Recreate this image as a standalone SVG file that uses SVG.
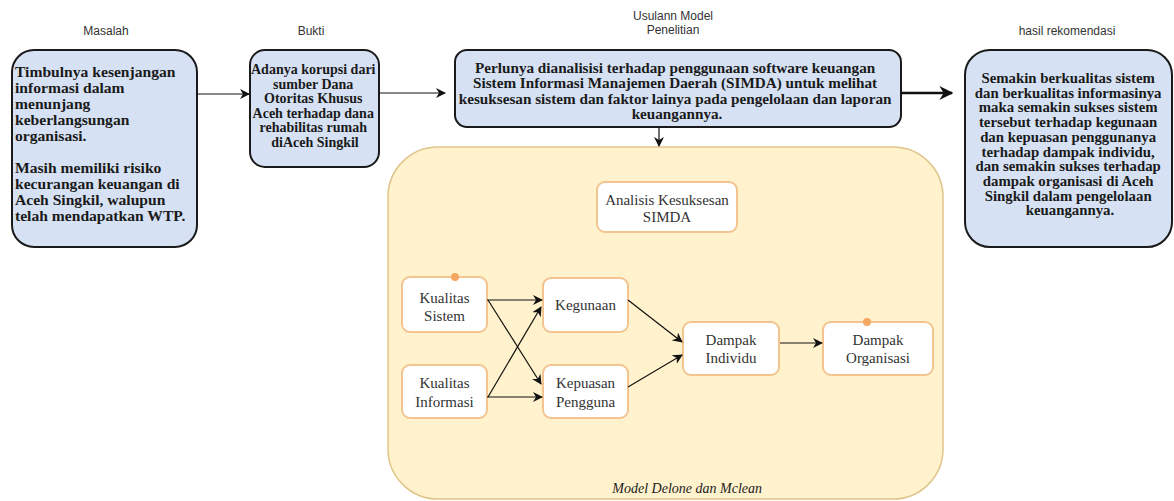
<svg xmlns="http://www.w3.org/2000/svg" width="1174" height="501" viewBox="0 0 1174 501">
<defs>
<marker id="ah" viewBox="0 0 10 10" refX="9" refY="5" markerWidth="10" markerHeight="10" markerUnits="userSpaceOnUse" orient="auto">
<path d="M0,0 L10,5 L0,10 L3,5 Z" fill="#111"/>
</marker>
<marker id="ahb" viewBox="0 0 10 10" refX="9" refY="5" markerWidth="14" markerHeight="14" markerUnits="userSpaceOnUse" orient="auto">
<path d="M0,0 L10,5 L0,10 L3,5 Z" fill="#111"/>
</marker>
<style>
.title{font-family:"Liberation Sans",Arial,sans-serif;font-size:12px;fill:#333;text-anchor:middle}
.blue{fill:#d6e2f4;stroke:#1a1a1a;stroke-width:2}
.bt{font-family:"Liberation Serif","Times New Roman",serif;font-weight:bold;fill:#1a1a1a}
.node{fill:#ffffff;stroke:#f3c48f;stroke-width:2}
.nt{font-family:"Liberation Serif","Times New Roman",serif;font-size:15px;fill:#333;text-anchor:middle}
.conn{stroke:#111;stroke-width:1.2;fill:none;marker-end:url(#ah)}
.dot{fill:#f5a662}
</style>
</defs>
<rect width="1174" height="501" fill="#ffffff"/>

<g id="titles">
<text class="title" x="106" y="35">Masalah</text>
<text class="title" x="311" y="35">Bukti</text>
<text class="title" x="673" y="20">Usulann Model</text>
<text class="title" x="673" y="34">Penelitian</text>
<text class="title" x="1067" y="35">hasil rekomendasi</text>
</g>

<g id="container">
<rect x="388" y="147" width="555" height="352" rx="50" fill="#fff2cc" stroke="#e0c58a" stroke-width="1.5"/>
<text x="762" y="493" text-anchor="end" font-family="'Liberation Serif','Times New Roman',serif" font-style="italic" font-size="14" fill="#222">Model Delone dan Mclean</text>
</g>

<g id="masalah">
<rect class="blue" x="12" y="50" width="185" height="197" rx="22"/>
<text class="bt" style="font-size:15.6px">
<tspan x="15" y="77">Timbulnya kesenjangan</tspan>
<tspan x="15" y="93">informasi dalam</tspan>
<tspan x="15" y="109">menunjang</tspan>
<tspan x="15" y="125">keberlangsungan</tspan>
<tspan x="15" y="141">organisasi.</tspan>
<tspan x="15" y="173">Masih memiliki risiko</tspan>
<tspan x="15" y="189">kecurangan keuangan di</tspan>
<tspan x="15" y="205">Aceh Singkil, walupun</tspan>
<tspan x="15" y="221">telah mendapatkan WTP.</tspan>
</text>
</g>

<g id="bukti">
<rect class="blue" x="250" y="50" width="129" height="117" rx="15"/>
<text class="bt" style="font-size:14px" text-anchor="middle">
<tspan x="315" y="74">Adanya korupsi dari</tspan>
<tspan x="315" y="88.6">sumber Dana</tspan>
<tspan x="315" y="103.2">Otoritas Khusus</tspan>
<tspan x="315" y="117.8">Aceh terhadap dana</tspan>
<tspan x="315" y="132.4">rehabilitas rumah</tspan>
<tspan x="315" y="147">diAceh Singkil</tspan>
</text>
</g>

<g id="usulan">
<rect class="blue" x="455" y="50" width="446" height="77" rx="12"/>
<text class="bt" style="font-size:15.2px" text-anchor="middle">
<tspan x="677" y="73">Perlunya dianalisisi terhadap penggunaan software keuangan</tspan>
<tspan x="677" y="88.3">Sistem Informasi Manajemen Daerah (SIMDA) untuk melihat</tspan>
<tspan x="677" y="103.6">kesuksesan sistem dan faktor lainya pada pengelolaan dan laporan</tspan>
<tspan x="677" y="118.9">keuangannya.</tspan>
</text>
</g>

<g id="hasil">
<rect class="blue" x="965" y="50" width="207" height="197" rx="25"/>
<text class="bt" style="font-size:14.8px" text-anchor="middle">
<tspan x="1070" y="83">Semakin berkualitas sistem</tspan>
<tspan x="1070" y="97.7">dan berkualitas informasinya</tspan>
<tspan x="1070" y="112.4">maka semakin sukses sistem</tspan>
<tspan x="1070" y="127.1">tersebut terhadap kegunaan</tspan>
<tspan x="1070" y="141.8">dan kepuasan penggunanya</tspan>
<tspan x="1070" y="156.5">terhadap dampak individu,</tspan>
<tspan x="1070" y="171.2">dan semakin sukses terhadap</tspan>
<tspan x="1070" y="185.9">dampak organisasi di Aceh</tspan>
<tspan x="1070" y="200.6">Singkil dalam pengelolaan</tspan>
<tspan x="1070" y="215.3">keuangannya.</tspan>
</text>
</g>

<g id="analisis">
<rect class="node" x="597" y="182" width="140" height="50" rx="8"/>
<text class="nt"><tspan x="667" y="205">Analisis Kesuksesan</tspan><tspan x="667" y="222">SIMDA</tspan></text>
</g>

<g id="kualitas-sistem">
<rect class="node" x="402" y="277" width="85" height="55" rx="8"/>
<circle class="dot" cx="455" cy="277" r="4"/>
<text class="nt"><tspan x="444.5" y="303">Kualitas</tspan><tspan x="444.5" y="321">Sistem</tspan></text>
</g>

<g id="kegunaan">
<rect class="node" x="543" y="278" width="85" height="54" rx="8"/>
<text class="nt"><tspan x="585.5" y="310">Kegunaan</tspan></text>
</g>

<g id="kualitas-informasi">
<rect class="node" x="402" y="365" width="85" height="53" rx="8"/>
<text class="nt"><tspan x="444.5" y="388">Kualitas</tspan><tspan x="444.5" y="406.5">Informasi</tspan></text>
</g>

<g id="kepuasan">
<rect class="node" x="543" y="365" width="85" height="53" rx="8"/>
<text class="nt"><tspan x="585.5" y="388">Kepuasan</tspan><tspan x="585.5" y="406.5">Pengguna</tspan></text>
</g>

<g id="dampak-individu">
<rect class="node" x="683" y="322" width="96" height="53" rx="8"/>
<text class="nt"><tspan x="731" y="345">Dampak</tspan><tspan x="731" y="363">Individu</tspan></text>
</g>

<g id="dampak-organisasi">
<rect class="node" x="823" y="322" width="110" height="53" rx="8"/>
<circle class="dot" cx="867" cy="322" r="4"/>
<text class="nt"><tspan x="878" y="345">Dampak</tspan><tspan x="878" y="363">Organisasi</tspan></text>
</g>

<g id="connectors">
<line class="conn" x1="197" y1="94" x2="249" y2="94"/>
<line class="conn" x1="379" y1="93" x2="445" y2="93"/>
<line x1="901" y1="93" x2="952" y2="93" stroke="#111" stroke-width="2.5" marker-end="url(#ahb)"/>
<line class="conn" x1="659" y1="127" x2="659" y2="146"/>
<line class="conn" x1="487" y1="300" x2="542" y2="300"/>
<line class="conn" x1="488" y1="300" x2="541" y2="384"/>
<line class="conn" x1="488" y1="397" x2="541" y2="307"/>
<line class="conn" x1="487" y1="397" x2="542" y2="397"/>
<line class="conn" x1="628" y1="300" x2="682" y2="342"/>
<line class="conn" x1="628" y1="387" x2="682" y2="355"/>
<line class="conn" x1="780" y1="343" x2="822" y2="343"/>
</g>
</svg>
